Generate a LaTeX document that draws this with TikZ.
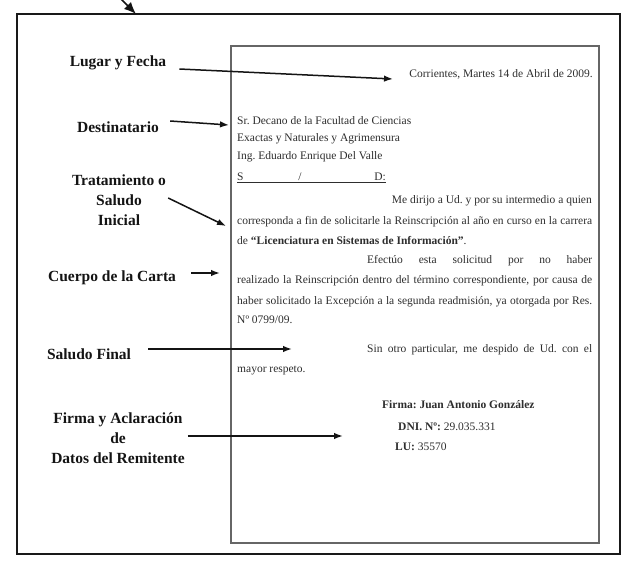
\documentclass[tikz,border=0pt]{standalone}
\usepackage{fontspec}
\setmainfont{Liberation Serif}
\usetikzlibrary{arrows.meta}
\begin{document}
\frenchspacing
\begin{tikzpicture}[x=1pt,y=-1pt,
  lbl/.style={font=\fontsize{15.5}{20}\selectfont\bfseries, align=center, inner sep=0pt, text=black!92},
  ltr/.style={font=\fontsize{11.5}{14}\selectfont, inner sep=0pt, text height=8pt, text depth=2.5pt, text=black!82},
  arr/.style={draw=black!92, line width=1.5pt, -{Latex[length=9pt,width=6.5pt]}},
  bigarr/.style={draw=black!92, line width=1.5pt, -{Latex[length=12pt,width=10pt]}},
  outerframe/.style={draw=black!90, line width=2.6pt},
  letterbox/.style={draw=black!60, line width=1.4pt}
]
\useasboundingbox (0,0) rectangle (629,560);
\fill[white] (0,0) rectangle (629,560);
\draw[outerframe] (17,14) rectangle (620,554);
\draw[letterbox] (231,46) rectangle (599,543);

% labels
\node[lbl] (lugar) at (118,63) {Lugar y Fecha};
\node[lbl] (dest) at (118,127) {Destinatario};
\node[lbl] (trat) at (119,200) {Tratamiento o\\Saludo\\Inicial};
\node[lbl] (cuerpo) at (112,278) {Cuerpo de la Carta};
\node[lbl] (salf) at (89,354) {Saludo Final};
\node[lbl] (firma) at (118,438) {Firma y Aclaración\\de\\Datos del Remitente};

% letter text
\node[ltr, anchor=east] (fecha) at (593,75) {Corrientes, Martes 14 de Abril de 2009.};
\node[ltr, anchor=west] (d1) at (237,122) {Sr. Decano de la Facultad de Ciencias};
\node[ltr, anchor=west] (d2) at (237,139) {Exactas y Naturales y Agrimensura};
\node[ltr, anchor=west] (d3) at (237,157) {Ing. Eduardo Enrique Del Valle};
\node[ltr, anchor=west] (s) at (237,178) {S};
\node[ltr] (sl) at (300,178) {/};
\node[ltr, anchor=east] (sd) at (386,178) {D:};
\draw[line width=0.6pt, black!82] ([yshift=-1.6pt]s.base west) -- ([yshift=-1.6pt]sd.base east);
\node[ltr, anchor=east] (p1) at (592,201) {Me dirijo a Ud. y por su intermedio a quien};
\node[ltr, anchor=west] (p2) at (237,222) {\makebox[355pt][s]{corresponda a fin de solicitarle la Reinscripción al año en curso en la carrera}};
\node[ltr, anchor=west] (p3) at (237,242) {de \textbf{“Licenciatura en Sistemas de Información”}.};
\node[ltr, anchor=west] (p4) at (367,261) {\makebox[225pt][s]{Efectúo esta solicitud por no haber}};
\node[ltr, anchor=west] (p5) at (237,281) {\makebox[355pt][s]{realizado la Reinscripción dentro del término correspondiente, por causa de}};
\node[ltr, anchor=west] (p6) at (237,302) {\makebox[355pt][s]{haber solicitado la Excepción a la segunda readmisión, ya otorgada por Res.}};
\node[ltr, anchor=west] (p7) at (237,321) {Nº 0799/09.};
\node[ltr, anchor=west] (p8) at (367,350) {\makebox[225pt][s]{Sin otro particular, me despido de Ud. con el}};
\node[ltr, anchor=west] (p9) at (237,370) {mayor respeto.};
\node[ltr, anchor=west] (f1) at (382,406) {\textbf{Firma: Juan Antonio González}};
\node[ltr, anchor=west] (f2) at (398,428) {\textbf{DNI. Nº:} 29.035.331};
\node[ltr, anchor=west] (f3) at (395,448) {\textbf{LU:} 35570};

% arrow targets
\coordinate (e1) at (393,79);
\coordinate (e2) at (229,125);
\coordinate (e3) at (226,226);
\coordinate (e4) at (220,273);
\coordinate (e5) at (292,349);
\coordinate (e6) at (343,436);
\coordinate (t0) at (121,-1);
\coordinate (t1) at (136,14);

\draw[arr] ([xshift=13pt,yshift=-6pt]lugar.east) -- (e1);
\draw[arr] ([xshift=11pt,yshift=6pt]dest.east) -- (e2);
\draw[arr] ([xshift=2pt,yshift=2pt]trat.east) -- (e3);
\draw[arr] ([xshift=15pt,yshift=5pt]cuerpo.east) -- (e4);
\draw[arr] ([xshift=17pt,yshift=5pt]salf.east) -- (e5);
\draw[arr] ([xshift=3pt,yshift=2pt]firma.east) -- (e6);
\draw[bigarr] (t0) -- (t1);
\end{tikzpicture}
\end{document}
